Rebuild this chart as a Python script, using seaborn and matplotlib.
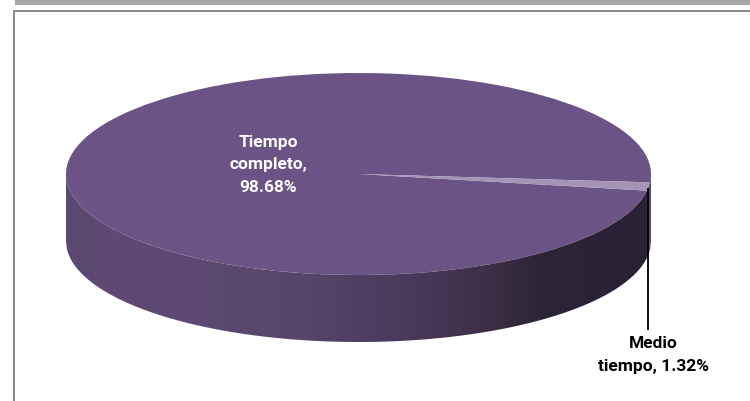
import numpy as np
import matplotlib
matplotlib.use("Agg")
import matplotlib.pyplot as plt
from matplotlib.colors import to_rgb
from matplotlib.patches import Rectangle, Polygon
import seaborn as sns

categories = ["Tiempo\ncompleto,", "Medio\ntiempo,"]
shares = [98.68, 1.32]
slice_colors = ["#6b5385", "#a394b8"]
wall_px = [66, 150, 300, 400, 480, 545, 647, 648, 651]
wall_colors = ["#5c4971", "#5f4a75", "#57466b", "#4a3a5c", "#3f3049", "#2c2437", "#2a2136", "#5a4a6c", "#5f4d70"]

W, H = 750, 401
sns.set_theme(style="white")
plt.rcParams["font.family"] = ["Roboto", "Liberation Sans", "DejaVu Sans"]

fig = plt.figure(figsize=(W / 100, H / 100), dpi=100, facecolor="white")

def fx(px): return px / W
def fy(py): return 1 - py / H

# page furniture
fig.add_artist(Rectangle((fx(15), fy(5)), fx(735), 5 / H, transform=fig.transFigure, fc="#a6a6a6", ec="none"))
fig.add_artist(Rectangle((fx(13.5), fy(11.5)), fx(737), 1.5 / H, transform=fig.transFigure, fc="#8c8c8c", ec="none"))
fig.add_artist(Rectangle((fx(13.5), 0), 1.5 / W, fy(10), transform=fig.transFigure, fc="#8c8c8c", ec="none"))

# plot box, pie top ellipse spans x 66..651, y 73..275, wall depth 67 px
L, R, T, Bt, depth = 66, 651, 73, 275, 67
ry_px = (Bt - T) / 2
ax = fig.add_axes([fx(L), fy(Bt + depth), (R - L) / W, (Bt + depth - T) / H])
d = depth / ry_px

def dx(px): return (px - (L + R) / 2) / ((R - L) / 2)
def dy(py): return ((T + Bt) / 2 - py) / ry_px

# top face: pie squashed by the free axes aspect
ax.pie(shares, colors=slice_colors, startangle=-4.75, radius=1, center=(0, 0),
       wedgeprops={"linewidth": 0}, frame=False)
ax.set_aspect("auto")

# side wall: a horizontal gradient clipped to the swept ellipse outline
xs = np.linspace(-1, 1, 800)
rgb = np.array([to_rgb(c) for c in wall_colors])
grad = np.stack([np.interp(xs, [dx(p) for p in wall_px], rgb[:, i]) for i in range(3)], axis=-1)[None, :, :]
lower = -np.sqrt(np.clip(1 - xs**2, 0, 1))
outline = np.vstack([np.column_stack([xs, lower]), np.column_stack([xs[::-1], (lower - d)[::-1]])])
clip = Polygon(outline, closed=True, transform=ax.transData, fc="none", ec="none")
ax.add_patch(clip)
im = ax.imshow(grad, extent=(-1, 1, -1 - d, 1), aspect="auto", interpolation="bilinear", zorder=3)
im.set_clip_path(clip)

ax.set_xlim(-1, 1)
ax.set_ylim(-1 - d, 1)
ax.axis("off")

ax.text(dx(268), dy(165), f"{categories[0]}\n{shares[0]:.2f}%", color="white", fontsize=12.5,
        fontweight="bold", ha="center", va="center", linespacing=1.6, zorder=5)
ax.plot([dx(647.7), dx(647.7)], [dy(188), dy(330)], color="black", lw=1.3, clip_on=False,
        solid_capstyle="butt", zorder=5)
ax.text(dx(653), dy(355), f"{categories[1]} {shares[1]:.2f}%", color="black", fontsize=12.5,
        fontweight="bold", ha="center", va="center", linespacing=1.6, clip_on=False, zorder=5)

fig.savefig("out.png", dpi=100, facecolor="white")
